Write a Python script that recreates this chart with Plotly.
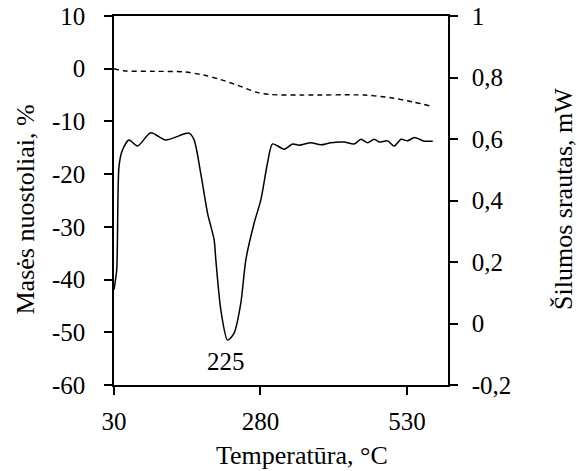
import plotly.graph_objects as go

# masės nuostoliai (TG), left axis
tg_temp = [30, 47, 100, 149, 183, 210, 240, 274, 297, 350, 457, 502, 540, 571]
tg_loss = [0, -0.4, -0.5, -0.6, -1.2, -2.0, -3.1, -4.5, -4.9, -5.0, -5.0, -5.5, -6.3, -7.1]

# šilumos srautas (DSC), right axis
dsc_temp = [30, 34.6, 38.5, 44.4, 55.6, 70, 92.7, 118.3, 158, 166.7, 178, 189.6, 200.9,
            203.8, 212.3, 223.7, 235, 246.5, 255, 269.2, 280.6, 292, 300.6, 320.5, 334.8,
            346, 366, 383, 400, 423, 440, 451.5, 463, 474, 482.8, 497, 508, 520, 531,
            542.6, 559.6, 574]
dsc_flow = [0.11, 0.174, 0.51, 0.564, 0.597, 0.577, 0.62, 0.597, 0.619, 0.597, 0.489, 0.359,
            0.272, 0.207, 0.044, -0.054, -0.031, 0.067, 0.207, 0.327, 0.402, 0.522, 0.584,
            0.567, 0.584, 0.58, 0.588, 0.581, 0.588, 0.59, 0.584, 0.599, 0.588, 0.599, 0.59,
            0.594, 0.577, 0.599, 0.594, 0.605, 0.593, 0.593]

x_ticks = [30, 280, 530]
y_ticks = [10, 0, -10, -20, -30, -40, -50, -60]
y_ticktext = ["10", "0", "-10", "-20", "-30", "-40", "-50", "-60"]
y2_ticks = [1, 0.8, 0.6, 0.4, 0.2, 0, -0.2]
y2_ticktext = ["1", "0,8", "0,6", "0,4", "0,2", "0", "-0,2"]

peak_temp = 221
peak_label_y = -55.6


def serif(size=25):
    return dict(family="Liberation Serif", size=size, color="black")


fig = go.Figure()
fig.add_trace(go.Scatter(x=tg_temp, y=tg_loss, mode="lines",
                         line=dict(color="black", width=1.4, dash="5px,4px", shape="spline", smoothing=0.8),
                         yaxis="y"))
fig.add_trace(go.Scatter(x=dsc_temp, y=dsc_flow, mode="lines",
                         line=dict(color="black", width=1.5, shape="spline", smoothing=0.7),
                         yaxis="y2"))

fig.add_annotation(x=peak_temp, y=peak_label_y, xref="x", yref="y", text="225",
                   showarrow=False, font=serif(), xanchor="center", yanchor="middle")

# axis titles
fig.add_annotation(x=-0.266, y=0.476, xref="paper", yref="paper", text="Masės nuostoliai, %",
                   textangle=-90, showarrow=False, font=serif(26), xanchor="center", yanchor="middle")
fig.add_annotation(x=1.344, y=0.504, xref="paper", yref="paper", text="Šilumos srautas, mW",
                   textangle=-90, showarrow=False, font=serif(26), xanchor="center", yanchor="middle")
fig.add_annotation(x=0.564, y=-0.19, xref="paper", yref="paper", text="Temperatūra, °C",
                   showarrow=False, font=serif(26), xanchor="center", yanchor="middle")


def axis_style():
    return dict(showgrid=False, zeroline=False, showline=True, linecolor="black", linewidth=1.5,
                ticks="outside", ticklen=8, tickwidth=1.5, tickcolor="black", tickfont=serif(),
                automargin=False)


fig.update_layout(
    template="simple_white",
    width=577, height=471,
    margin=dict(l=114, r=129, t=16, b=86),
    plot_bgcolor="white", paper_bgcolor="white",
    showlegend=False,
    font=serif(),
    xaxis=dict(range=[30, 600], tickvals=x_ticks, mirror=True, ticklabelstandoff=5, **axis_style()),
    yaxis=dict(range=[-60, 10], tickvals=y_ticks, ticktext=y_ticktext, ticklabelstandoff=14,
               **axis_style()),
    yaxis2=dict(range=[-0.2, 1], tickvals=y2_ticks, ticktext=y2_ticktext, overlaying="y", side="right",
                anchor="x", ticklabelstandoff=9, **axis_style()),
)

# drop the default 8px body margin so the figure sits at the page corner
fig.write_html("out.html", config={"displayModeBar": False},
               post_script="document.body.style.margin='0px';")
